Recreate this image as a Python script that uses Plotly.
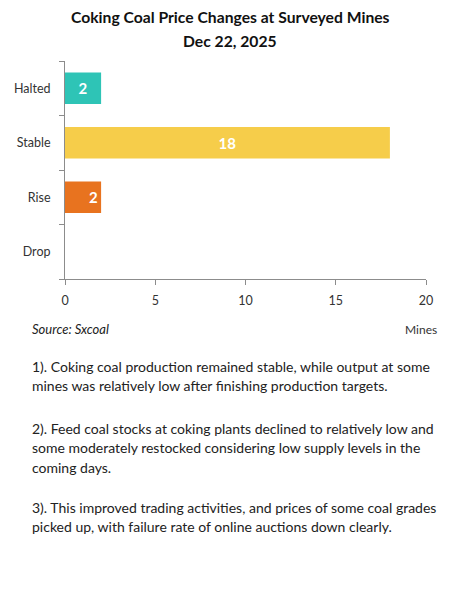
import plotly.graph_objects as go

# data
categories = ['Drop', 'Rise', 'Stable', 'Halted']
mines = [0, 2, 18, 2]
bar_colors = ['#e8731f', '#e8731f', '#f6cd4a', '#2ec4b6']
label_anchor = ['middle', 'end', 'middle', 'middle']
x_ticks = [0, 5, 10, 15, 20]

title_lines = ['Coking Coal Price Changes at Surveyed Mines', 'Dec 22, 2025']
notes = [
    ['1). Coking coal production remained stable, while output at some',
     'mines was relatively low after finishing production targets.'],
    ['2). Feed coal stocks at coking plants declined to relatively low and',
     'some moderately restocked considering low supply levels in the',
     'coming days.'],
    ['3). This improved trading activities, and prices of some coal grades',
     'picked up, with failure rate of online auctions down clearly.'],
]

FONT = 'Lato'
# page has an 8px body margin, so figure pixels = picture pixels - 8
W, H = 445, 600
L, T, R, B = 57, 53, 27, 329   # plot area 57..418 x 53..271
PW, PH = W - L - R, H - T - B


def px(xp):
    return (xp - L) / PW


def py(yp):
    return (T + PH - yp) / PH


fig = go.Figure()
for cat, val, col, anc in zip(categories, mines, bar_colors, label_anchor):
    fig.add_trace(go.Bar(
        x=[val], y=[cat], orientation='h',
        marker=dict(color=col, line=dict(width=0)),
        width=0.58,
        text=[str(val) if val else ''],
        textposition='inside', insidetextanchor=anc,
        textfont=dict(family=FONT, size=15, color='white', weight='bold'),
        showlegend=False, hoverinfo='x+y',
    ))

fig.update_layout(
    width=W, height=H,
    margin=dict(l=L, r=R, t=T, b=B, autoexpand=False),
    paper_bgcolor='white', plot_bgcolor='white',
    font=dict(family=FONT, size=12, color='#333333'),
)
fig.update_xaxes(
    range=[0, 20], tickvals=x_ticks, showgrid=False, zeroline=False,
    showline=True, linecolor='#8c8c8c', linewidth=1,
    ticks='outside', ticklen=5, tickcolor='#8c8c8c',
    ticklabelstandoff=5, automargin=False,
    tickfont=dict(family=FONT, size=12.5, color='#333333'),
)
fig.update_yaxes(
    type='category', categoryorder='array', categoryarray=categories,
    range=[-0.5, 3.5], tickson='boundaries', showgrid=False,
    showline=True, linecolor='#8c8c8c', linewidth=1,
    ticks='outside', ticklen=5, tickcolor='#8c8c8c',
    ticklabelstandoff=11, automargin=False,
    tickfont=dict(family=FONT, size=12.5, color='#333333'),
)

# title
for i, t in enumerate(title_lines):
    fig.add_annotation(text='<b>%s</b>' % t, xref='paper', yref='paper',
                       x=px(222), y=py(9 + 24 * i),
                       xanchor='center', yanchor='middle', showarrow=False,
                       font=dict(family=FONT, size=15.7, color='#111111'))

# source and unit
fig.add_annotation(text='<i>Source: Sxcoal</i>', xref='paper', yref='paper',
                   x=px(22), y=py(321),
                   xanchor='left', yanchor='middle', showarrow=False,
                   font=dict(family=FONT, size=13, color='#222222'))
fig.add_annotation(text='Mines', xref='paper', yref='paper',
                   x=px(431), y=py(321),
                   xanchor='right', yanchor='middle', showarrow=False,
                   font=dict(family=FONT, size=12, color='#333333'))

# notes below chart
para_top = [358, 420, 499]
for top, lines in zip(para_top, notes):
    for j, line in enumerate(lines):
        fig.add_annotation(text=line, xref='paper', yref='paper',
                           x=px(22), y=py(top + 19.5 * j),
                           xanchor='left', yanchor='middle', showarrow=False,
                           font=dict(family=FONT, size=14, color='#222222'))

fig.write_html('out.html')
